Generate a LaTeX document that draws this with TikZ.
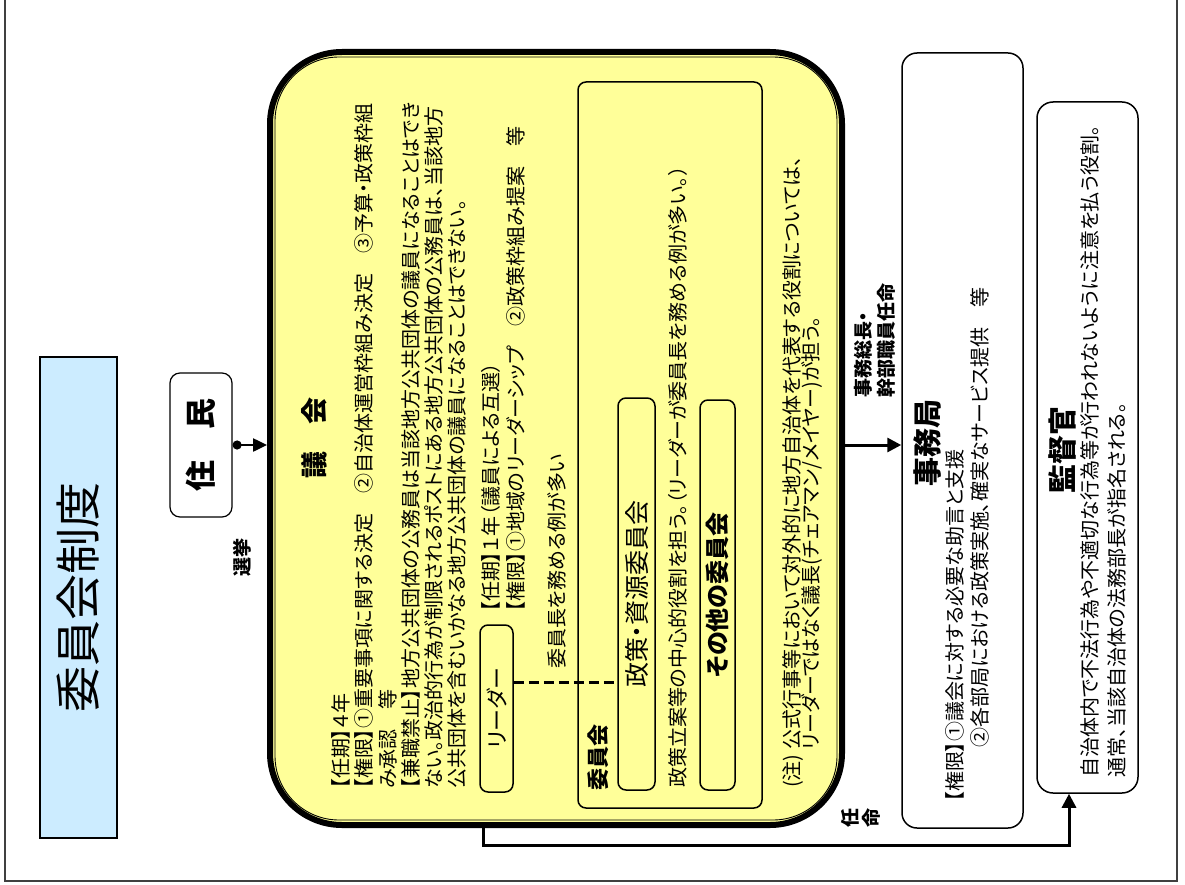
\documentclass[tikz,border=0pt]{standalone}
\usepackage{fontspec}
\setmainfont{Noto Sans CJK JP}[RawFeature=+palt]
\usetikzlibrary{arrows.meta}
\definecolor{gikaiyellow}{HTML}{FFFF99}
\definecolor{titleblue}{HTML}{CCECFF}
\newcommand\fsz[1]{\fontsize{#1}{#1}\selectfont}
\tikzset{
  txt/.style={rotate=90, anchor=west, inner sep=0pt, font=\fsz{20}},
  boldlbl/.style={rotate=90, inner sep=0pt, align=center, font=\bfseries\fontsize{19}{21}\selectfont},
  panel/.style={draw, line width=1.5pt, rounded corners=#1, inner sep=0pt},
  panel/.default=8pt,
  arr/.style={line width=3pt, -{Triangle[length=14pt,width=14pt]}},
}

\begin{document}
\begin{tikzpicture}[x=1pt, y=-1pt]
	\useasboundingbox (0,0) rectangle (1185,885);
	\draw[line width=1.2pt, black!75] (5,0) -- (5,881) -- (1177,881) -- (1177,0);
	% title and residents
	\node[draw, line width=1.2pt, fill=titleblue, rotate=90, minimum width=481, minimum height=77, font=\fsz{46}] (title) at (78.5,597.5) {委員会制度};
	\node[panel=10pt, line width=1.2pt, fill=white, rotate=90, minimum width=144, minimum height=62, font=\bfseries\fsz{31}] (jumin) at (201,445) {住　民};
	\node[boldlbl] (senkyo) at (242,557) {選挙};
	% council
	\node[draw, line width=6pt, fill=gikaiyellow, rounded corners=72pt, minimum width=572, minimum height=773] (gikai) at (556,438.5) {};
	\draw[line width=0.9pt, rounded corners=64pt] ([shift={(8,8)}]gikai.north west) rectangle ([shift={(-8,-8)}]gikai.south east);
	\node[boldlbl, font=\bfseries\fsz{27}] (gikaittl) at (314,438) {議　会};
	\node[txt] (g1) at (341,789) {【任期】４年};
	\node[txt] (g2) at (364,789) {【権限】①重要事項に関する決定　②自治体運営枠組み決定　③予算・政策枠組};
	\node[txt] (g3) at (388,789) {み承認　等};
	\node[txt] (g4) at (411,789) {【兼職禁止】地方公共団体の公務員は当該地方公共団体の議員になることはでき};
	\node[txt] (g5) at (434,789) {ない。政治的行為が制限されるポストにある地方公共団体の公務員は、当該地方};
	\node[txt] (g6) at (457,789) {公共団体を含むいかなる地方公共団体の議員になることはできない。};
	% leader
	\node[panel, rotate=90, minimum width=167, minimum height=33, font=\fsz{22}] (leader) at (496.5,708.5) {リーダー};
	\node[txt] (l1) at (491,612) {【任期】１年（議員による互選）};
	\node[txt] (l2) at (516,612) {【権限】①地域のリーダーシップ　②政策枠組み提案　等};
	\node[txt] (l3) at (557,669) {委員長を務める例が多い};
	% committees
	\node[panel, fill=gikaiyellow, minimum width=184, minimum height=726] (iinkai) at (670,445) {};
	\node[boldlbl, anchor=west, font=\bfseries\fsz{22}] (iinkaittl) at (598,791) {委員会};
	\node[panel, rotate=90, minimum width=392, minimum height=37, font=\fsz{25}] (seisaku) at (636.5,594) {政策・資源委員会};
	\node[txt] (s1) at (678,788) {政策立案等の中心的役割を担う。（リーダーが委員長を務める例が多い。）};
	\node[panel, rotate=90, minimum width=390, minimum height=35, font=\bfseries\fsz{24}] (sonota) at (717.5,595) {その他の委員会};
	\coordinate (dashy) at (0,682);
	\draw[line width=3pt, dash pattern=on 10pt off 5pt] (leader.south |- dashy) -- (seisaku.north |- dashy);
	\node[txt] (n1) at (793,788) {(注) 公式行事等において対外的に地方自治体を代表する役割については、};
	\node[txt] (n2) at (812,750) {リーダーではなく議長(チェアマン/メイヤー)が担う。};
	% secretariat
	\node[panel=15pt, fill=white, minimum width=121, minimum height=775] (jimu) at (962.5,440.5) {};
	\node[boldlbl, anchor=west] (ninmei1) at (863,398) {事務総長・};
	\node[boldlbl, anchor=west] (ninmei2) at (886,398) {幹部職員任命};
	\node[boldlbl, font=\bfseries\fsz{29}] (jimuttl) at (927,443) {事務局};
	\node[txt] (j1) at (955,802) {【権限】①議会に対する必要な助言と支援};
	\node[txt] (j2) at (980,748) {②各部局における政策実施、確実なサービス提供　等};
	% supervisor
	\node[panel=16pt, fill=white, minimum width=101, minimum height=691] (kantoku) at (1087.5,447.5) {};
	\node[boldlbl, font=\bfseries\fsz{29}] (kantokuttl) at (1062,450) {監督官};
	\node[txt] (k1) at (1090,778) {自治体内で不法行為や不適切な行為等が行われないように注意を払う役割。};
	\node[txt] (k2) at (1117,778) {通常、当該自治体の法務部長が指名される。};
	\node[boldlbl] (ninmei) at (861,818) {任\\命};
	% connectors
	\draw[line width=2.5pt, {Circle[length=9pt]}-{Triangle[length=14pt,width=13pt]}] (jumin.south) -- (jumin.south -| gikai.west);
	\draw[arr] (gikai.east |- jumin.south) -- (jimu.west |- jumin.south);
	\coordinate (turnA) at (483,845);
	\coordinate (turnB) at (1069,845);
	\draw[arr] (turnA |- gikai.south) -- (turnA) -- (turnB) -- (turnB |- kantoku.south);
\end{tikzpicture}
\end{document}
